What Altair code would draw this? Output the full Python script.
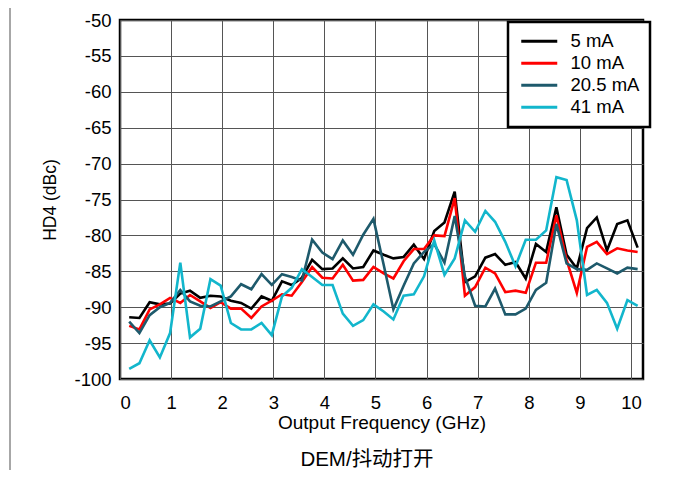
import altair as alt
import pandas as pd

# Output frequency (GHz)
freq = [0.18, 0.38, 0.58, 0.78, 0.98, 1.18, 1.37, 1.57, 1.77, 1.97,
        2.17, 2.37, 2.57, 2.77, 2.97, 3.17, 3.36, 3.56, 3.76, 3.96,
        4.16, 4.36, 4.56, 4.76, 4.96, 5.16, 5.35, 5.55, 5.75, 5.95,
        6.15, 6.35, 6.55, 6.75, 6.95, 7.15, 7.34, 7.54, 7.74, 7.94,
        8.14, 8.34, 8.54, 8.74, 8.94, 9.14, 9.33, 9.53, 9.73, 9.93, 10.13]

hd4_5mA = [-91.4, -91.5, -89.3, -89.6, -89.5, -88.1, -87.7, -88.7, -88.4, -88.5,
           -89.1, -89.4, -90.2, -88.5, -89.1, -86.4, -86.9, -85.9, -83.4, -84.7,
           -84.6, -83.2, -84.6, -84.4, -82.1, -82.7, -83.2, -83.0, -81.3, -83.3,
           -79.4, -78.2, -73.9, -86.5, -85.7, -83.1, -82.6, -84.1, -83.7, -86.0,
           -81.2, -82.3, -76.1, -82.7, -84.6, -79.0, -77.5, -82.1, -78.4, -77.9, -81.7]

hd4_10mA = [-92.6, -93.1, -90.3, -89.6, -88.7, -89.4, -88.3, -89.2, -90.1, -89.3,
            -90.2, -90.2, -91.5, -89.9, -89.1, -88.2, -88.4, -86.5, -84.4, -85.9,
            -86.0, -84.1, -86.3, -86.2, -84.4, -85.3, -86.0, -83.6, -81.9, -81.9,
            -80.0, -80.1, -74.8, -88.4, -87.2, -84.5, -85.3, -87.9, -87.7, -88.0,
            -83.8, -83.8, -77.2, -83.4, -88.0, -81.6, -80.9, -82.6, -81.8, -82.1, -82.3]

hd4_20mA = [-92.0, -93.6, -91.1, -90.0, -89.4, -87.6, -89.2, -89.8, -89.9, -89.2,
            -88.5, -86.8, -87.5, -85.4, -86.9, -85.4, -85.8, -86.3, -80.6, -82.4,
            -83.3, -80.7, -82.7, -79.9, -77.7, -84.1, -90.3, -87.0, -83.9, -82.3,
            -81.2, -83.8, -77.3, -85.7, -89.8, -89.9, -87.4, -91.0, -91.0, -90.2,
            -87.6, -86.6, -78.4, -83.9, -84.7, -84.8, -83.9, -84.6, -85.3, -84.5, -84.7]

hd4_41mA = [-98.6, -97.8, -94.6, -97.0, -93.6, -83.8, -94.2, -93.0, -86.1, -87.0,
            -92.2, -93.1, -93.1, -92.2, -93.9, -88.5, -87.3, -84.7, -85.8, -86.9,
            -86.9, -90.9, -92.6, -91.8, -89.6, -90.6, -91.7, -88.4, -88.2, -85.7,
            -80.7, -85.5, -83.2, -77.9, -79.5, -76.6, -78.1, -80.9, -84.3, -80.6,
            -80.6, -79.3, -71.9, -72.3, -77.9, -88.3, -87.6, -89.4, -93.0, -89.0, -89.8]

series_names = ["5 mA", "10 mA", "20.5 mA", "41 mA"]
series_colors = ["#000000", "#FF0000", "#1E5A6C", "#12B6CC"]
x_ticks = [0, 1, 2, 3, 4, 5, 6, 7, 8, 9, 10]
y_ticks = [-100, -95, -90, -85, -80, -75, -70, -65, -60, -55, -50]
caption_text = "DEM/抖动打开"

rows = []
for k, (name, vals) in enumerate(zip(series_names, [hd4_5mA, hd4_10mA, hd4_20mA, hd4_41mA])):
    for f, v in zip(freq, vals):
        rows.append({"freq": f, "hd4": v, "series": name, "k": k})
df = pd.DataFrame(rows)

FONT = "Liberation Sans, Arial, Noto Sans CJK SC"

lines = alt.Chart(df).mark_line(strokeWidth=2.6, strokeJoin="miter").encode(
    x=alt.X("freq:Q",
            scale=alt.Scale(domain=[0, 10.235], nice=False, zero=False),
            axis=alt.Axis(values=x_ticks, title="Output Frequency (GHz)",
                          labelPadding=14, titleY=49, titleBaseline="alphabetic",
                          labelFontSize=18.5, titleFontSize=19)),
    y=alt.Y("hd4:Q",
            scale=alt.Scale(domain=[-100, -50], nice=False, zero=False),
            axis=alt.Axis(values=y_ticks, title="HD4 (dBc)", labelPadding=9,
                          labelExpr="'' + datum.value",
                          titleX=-70, titleY=179.5, titleAngle=-90,
                          titleAlign="center", titleBaseline="middle",
                          labelFontSize=18.5, titleFontSize=17.5)),
    color=alt.Color("series:N",
                    scale=alt.Scale(domain=series_names, range=series_colors),
                    sort=series_names,
                    legend=alt.Legend(title=None, orient="none", legendX=388, legendY=2,
                                      symbolType="M-1,0H5", symbolSize=144,
                                      symbolStrokeWidth=3, labelFontSize=18.5,
                                      labelFont=FONT, labelColor="black",
                                      labelOffset=34, padding=10, rowPadding=3,
                                      strokeColor="black", fillColor="white")),
    order=alt.Order("k:Q"),
    detail="series:N",
)

caption = alt.Chart(pd.DataFrame({"caption": [caption_text]})).mark_text(
    font=FONT, fontSize=20.5, align="center", baseline="alphabetic", color="black"
).encode(x=alt.value(247), y=alt.value(446), text="caption:N")

border = alt.Chart(pd.DataFrame({"a": [0]})).mark_rule(color="#8a8a8a", strokeWidth=1.5).encode(
    x=alt.value(-110), y=alt.value(-12), y2=alt.value(455)
)

chart = alt.layer(border, lines, caption).properties(
    width=523, height=359,
    padding={"left": 112, "top": 12, "right": 23, "bottom": 91},
    autosize=alt.AutoSizeParams(type="none"),
).configure_view(
    stroke="black", strokeWidth=2.5
).configure_axis(
    grid=True, gridColor="#555555", gridWidth=1, domain=False, ticks=False, tickSize=0,
    labelFont=FONT, titleFont=FONT, labelColor="black", titleColor="black",
    titleFontWeight="normal"
).configure_legend(
    strokeWidth=2.5
)

chart.save("out.html", embed_options={"renderer": "svg", "actions": False})
